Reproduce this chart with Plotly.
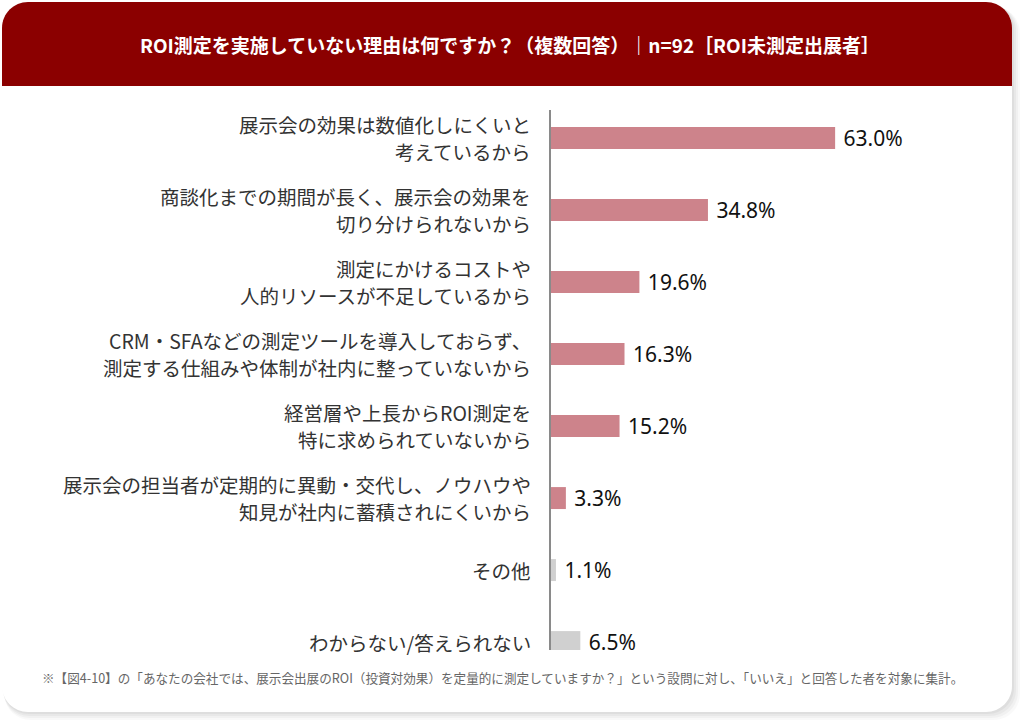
import plotly.graph_objects as go

categories = [
    "展示会の効果は数値化しにくいと<br>考えているから",
    "商談化までの期間が長く、展示会の効果を<br>切り分けられないから",
    "測定にかけるコストや<br>人的リソースが不足しているから",
    "CRM・SFAなどの測定ツールを導入しておらず、<br>測定する仕組みや体制が社内に整っていないから",
    "経営層や上長からROI測定を<br>特に求められていないから",
    "展示会の担当者が定期的に異動・交代し、ノウハウや<br>知見が社内に蓄積されにくいから",
    "その他",
    "わからない/答えられない",
]
values = [63.0, 34.8, 19.6, 16.3, 15.2, 3.3, 1.1, 6.5]
value_labels = ["63.0%", "34.8%", "19.6%", "16.3%", "15.2%", "3.3%", "1.1%", "6.5%"]
PINK = "#cd838b"
GRAY = "#d0d0d0"
bar_colors = [PINK] * 6 + [GRAY] * 2

title_text = "ROI測定を実施していない理由は何ですか？（複数回答）｜n=92［ROI未測定出展者］"
note_text = ("※【図4-10】の「あなたの会社では、展示会出展のROI（投資対効果）を定量的に測定していますか？」"
             "という設問に対し、「いいえ」と回答した者を対象に集計。")

FW, FH = 1024, 725
L, R, T, B = 551, 965, 110, 650
PW, PH = R - L, B - T
JP = "Noto Sans CJK JP"


def px(x):
    return (x - L) / PW


def py(y):
    return 1 - (y - T) / PH


def rounded_path(x0, y0, x1, y1, r, bottom_round=True):
    k = 0.5523 * r
    pts = []
    pts.append(f"M {px(x0)},{py(y0 + r)}")
    pts.append(f"C {px(x0)},{py(y0 + r - k)} {px(x0 + r - k)},{py(y0)} {px(x0 + r)},{py(y0)}")
    pts.append(f"L {px(x1 - r)},{py(y0)}")
    pts.append(f"C {px(x1 - r + k)},{py(y0)} {px(x1)},{py(y0 + r - k)} {px(x1)},{py(y0 + r)}")
    if bottom_round:
        pts.append(f"L {px(x1)},{py(y1 - r)}")
        pts.append(f"C {px(x1)},{py(y1 - r + k)} {px(x1 - r + k)},{py(y1)} {px(x1 - r)},{py(y1)}")
        pts.append(f"L {px(x0 + r)},{py(y1)}")
        pts.append(f"C {px(x0 + r - k)},{py(y1)} {px(x0)},{py(y1 - r + k)} {px(x0)},{py(y1 - r)}")
    else:
        pts.append(f"L {px(x1)},{py(y1)}")
        pts.append(f"L {px(x0)},{py(y1)}")
    pts.append("Z")
    return " ".join(pts)


shapes = []
# soft shadow
for i, a in enumerate([0.025, 0.03, 0.035, 0.04]):
    o = 8 - i * 2
    shapes.append(dict(type="path", xref="paper", yref="paper", layer="below",
                       path=rounded_path(2 + o * 0.3, 2 + o * 0.6, 1012 + o, 712 + o, 26),
                       fillcolor=f"rgba(0,0,0,{a})", line=dict(width=0)))
# card
shapes.append(dict(type="path", xref="paper", yref="paper", layer="below",
                   path=rounded_path(2, 2, 1012, 712, 26),
                   fillcolor="white", line=dict(width=0)))
# header
shapes.append(dict(type="path", xref="paper", yref="paper", layer="below",
                   path=rounded_path(2, 2, 1012, 86, 26, bottom_round=False),
                   fillcolor="#8b0000", line=dict(width=0)))

annotations = [
    dict(text=title_text, xref="paper", yref="paper", x=px(510), y=py(45),
         xanchor="center", yanchor="middle", showarrow=False,
         font=dict(family=JP, size=19, color="white", weight=600)),
    dict(text=note_text, xref="paper", yref="paper", x=px(40), y=py(677),
         xanchor="left", yanchor="middle", showarrow=False,
         font=dict(family=JP, size=12.6, color="#666666")),
]
# category labels, one annotation per line, right-aligned to the left of the axis
LINE_GAP = 27
for cat in categories:
    lines = cat.split("<br>")
    n = len(lines)
    for j, line in enumerate(lines):
        shift = ((n - 1) / 2 - j) * LINE_GAP
        annotations.append(dict(text=line, xref="paper", yref="y", x=px(533), y=cat,
                                xanchor="right", yanchor="middle", showarrow=False,
                                yshift=shift,
                                font=dict(family=JP, size=19.5, color="#333333")))

fig = go.Figure()
fig.add_trace(go.Bar(
    y=categories, x=values, orientation="h",
    marker=dict(color=bar_colors, line=dict(width=0)),
    text=value_labels, texttemplate=" %{text}",
    textposition="outside", cliponaxis=False, constraintext="none",
    textfont=dict(family="Noto Sans, " + JP, size=21, color="#111111"),
    width=0.305, hoverinfo="skip",
))

fig.update_layout(
    width=FW, height=FH,
    margin=dict(l=L, r=FW - R, t=T, b=FH - B, pad=0),
    paper_bgcolor="white", plot_bgcolor="rgba(0,0,0,0)",
    showlegend=False,
    font=dict(family=JP, color="#333333"),
    shapes=shapes,
    annotations=annotations,
    xaxis=dict(range=[0, PW / 4.51], visible=False, fixedrange=True),
    yaxis=dict(
        type="category", range=[7.11, -0.389], showline=True, linecolor="#8a8a8a", linewidth=1.5,
        showticklabels=False, ticks="", showgrid=False, zeroline=False,
    ),
)

fig.write_html("out.html")
